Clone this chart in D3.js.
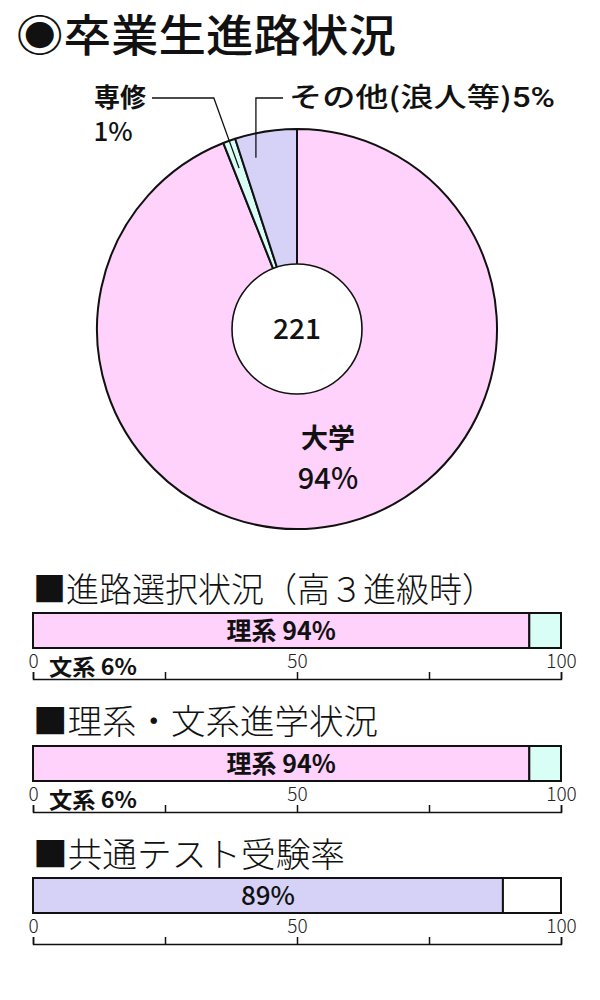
<!DOCTYPE html>
<html><head><meta charset="utf-8">
<script src="https://cdn.jsdelivr.net/npm/d3@7"></script>
<style>
body{margin:0;background:#fff;}
svg{display:block;}
text{font-family:"Noto Sans CJK JP","Noto Sans",sans-serif;}
</style></head>
<body>
<script>
// ---- data ----
const title = "◉卒業生進路状況";
const pieCategories = ["大学", "専修", "その他(浪人等)"];
const pieValues = [94, 1, 5];
const pieTotal = "221";

const barTitles = ["■進路選択状況（高３進級時）", "■理系・文系進学状況", "■共通テスト受験率"];
const barCategories = [["理系", "文系"], ["理系", "文系"], ["受験", "未受験"]];
const barValues = [[94, 6], [94, 6], [89, 11]];
const tickValues = [0, 25, 50, 75, 100];
const tickLabels = ["0", "", "50", "", "100"];

// ---- drawing ----
const W = 600, H = 1000;
const svg = d3.select("body").append("svg").attr("width", W).attr("height", H);

const pink = "#ffd2fb", cyan = "#d9fef6", lav = "#d6d2f7";
const numFont = "Roboto,'Liberation Sans',sans-serif";
const tickFont = "'Liberation Sans','Noto Sans',sans-serif";

svg.append("text").attr("x", 16).attr("y", 52)
  .attr("font-size", 44).attr("font-weight", 500).attr("fill", "#111")
  .attr("textLength", 380).attr("lengthAdjust", "spacingAndGlyphs")
  .text(title);

// pie
const cx = 297, cy = 329, R = 200, r0 = 65;
const g = svg.append("g").attr("transform", `translate(${cx},${cy})`);
const pie = d3.pie().sort(null).value(d => d)(pieValues);
const arc = d3.arc().innerRadius(0).outerRadius(R);
const pieColor = d3.scaleOrdinal().domain([0,1,2]).range([pink, cyan, lav]);
g.selectAll("path.slice").data(pie).join("path")
  .attr("class", "slice")
  .attr("d", arc)
  .attr("fill", (d, i) => pieColor(i))
  .attr("stroke", "#111").attr("stroke-width", 2).attr("stroke-linejoin", "round");
g.append("circle").attr("r", r0).attr("fill", "#fff").attr("stroke", "#111").attr("stroke-width", 1.6);
g.append("text").attr("y", 10).attr("text-anchor", "middle").attr("font-family", numFont)
  .attr("font-size", 28).attr("font-weight", 500).attr("fill", "#111").text(pieTotal);

// 大学 label
g.append("text").attr("x", 31).attr("y", 119).attr("text-anchor", "middle")
  .attr("font-size", 27).attr("font-weight", 700).attr("fill", "#111").text(pieCategories[0]);
g.append("text").attr("x", 31).attr("y", 160).attr("text-anchor", "middle").attr("font-family", numFont)
  .attr("font-size", 29).attr("font-weight", 500).attr("fill", "#111").text(pieValues[0] + "%");

// leader lines
const polar = (a, rr) => [rr * Math.sin(a), -rr * Math.cos(a)];
const labelY = 98 - cy;
// 専修: radial line then horizontal
{
  const s = pie[1];
  const a = (s.startAngle + s.endAngle) / 2;
  const p1 = polar(a, 171);
  const t = labelY / (-Math.cos(a));
  const p2 = [t * Math.sin(a), labelY];
  g.append("path").attr("d", `M${p1[0]},${p1[1]}L${p2[0]},${p2[1]}L${152 - cx},${labelY}`)
    .attr("fill", "none").attr("stroke", "#111").attr("stroke-width", 1.3);
  svg.append("text").attr("x", 146).attr("y", 107).attr("text-anchor", "end")
    .attr("font-size", 26).attr("font-weight", 700).attr("fill", "#111").text(pieCategories[1]);
  svg.append("text").attr("x", 113).attr("y", 141).attr("text-anchor", "middle").attr("font-family", numFont)
    .attr("font-size", 26).attr("font-weight", 500).attr("fill", "#111").text(pieValues[1] + "%");
}
// その他: vertical then horizontal
{
  const s = pie[2];
  const a = s.startAngle + (s.endAngle - s.startAngle) * 0.25;
  const p1 = polar(a, 176);
  g.append("path").attr("d", `M${p1[0]},${p1[1]}L${p1[0]},${labelY}L${283 - cx},${labelY}`)
    .attr("fill", "none").attr("stroke", "#111").attr("stroke-width", 1.3);
  const t = svg.append("text").attr("x", 289).attr("y", 107)
    .attr("font-size", 27).attr("font-weight", 500).attr("fill", "#111")
    .attr("textLength", 266).attr("lengthAdjust", "spacingAndGlyphs");
  t.append("tspan").text(pieCategories[2]);
  t.append("tspan").attr("font-family", numFont).attr("font-weight", 500).text(pieValues[2] + "%");
}

// bars
const x = d3.scaleLinear().domain([0, 100]).range([33, 561]);
const sections = [
  {head: 602, top: 613, headLen: 462, colors: [pink, cyan], bold: true, sub: true},
  {head: 734, top: 746, headLen: 345, colors: [pink, cyan], bold: true, sub: true},
  {head: 867, top: 878, headLen: 312, colors: [lav, "#fff"], bold: false, sub: false}
];
const barH = 35;
sections.forEach((sec, k) => {
  svg.append("text").attr("x", 33).attr("y", sec.head)
    .attr("font-size", 34).attr("font-weight", 300).attr("fill", "#111")
    .attr("textLength", sec.headLen).attr("lengthAdjust", "spacingAndGlyphs")
    .text(barTitles[k]);
  const vals = barValues[k];
  let acc = 0;
  const segs = vals.map((v, i) => { const s = {x0: acc, x1: acc + v, v, c: barCategories[k][i], i}; acc += v; return s; });
  const bg = svg.append("g");
  bg.selectAll("rect").data(segs).join("rect")
    .attr("x", d => x(d.x0)).attr("width", d => x(d.x1) - x(d.x0))
    .attr("y", sec.top).attr("height", barH)
    .attr("fill", d => sec.colors[d.i]).attr("stroke", "#111").attr("stroke-width", 2);
  const s0 = segs[0];
  const lt = bg.append("text").attr("x", (x(s0.x0) + x(s0.x1)) / 2).attr("y", sec.top + barH / 2 + 9)
    .attr("text-anchor", "middle").attr("font-size", 25)
    .attr("font-weight", 700).attr("fill", "#111");
  if (sec.bold) {
    lt.text(s0.c + " " + s0.v + "%");
  } else {
    lt.attr("font-family", numFont).attr("font-weight", 500).attr("font-size", 26).text(s0.v + "%");
  }
  const axisY = sec.top + barH + 31;
  const ax = svg.append("g").attr("transform", `translate(0,${axisY})`)
    .call(d3.axisTop(x).tickValues(tickValues).tickFormat((d, i) => tickLabels[i]).tickSize(7).tickPadding(4));
  ax.select(".domain").attr("stroke", "#111").attr("stroke-width", 1.5);
  ax.selectAll(".tick line").attr("stroke", "#111").attr("stroke-width", 1.5);
  ax.selectAll(".tick text").attr("font-size", 19).attr("font-weight", 300).attr("fill", "#222")
    .attr("font-family", tickFont);
  if (sec.sub) {
    const s1 = segs[1];
    svg.append("text").attr("x", 49).attr("y", sec.top + barH + 27)
      .attr("font-size", 22).attr("font-weight", 700).attr("fill", "#111")
      .attr("textLength", 88).attr("lengthAdjust", "spacingAndGlyphs")
      .text(s1.c + " " + s1.v + "%");
  }
});
</script>
</body></html>
